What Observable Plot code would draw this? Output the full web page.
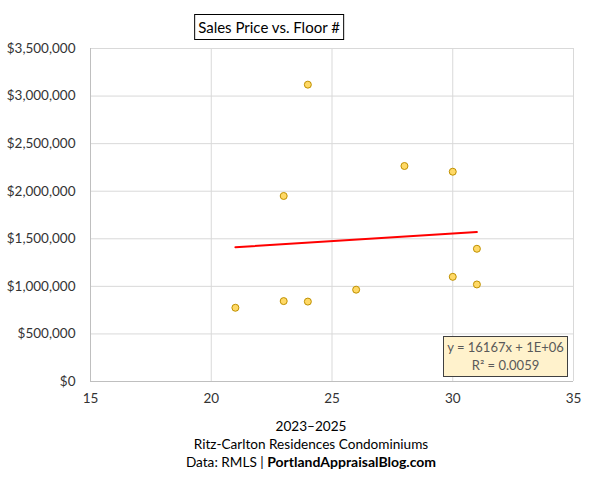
<!DOCTYPE html>
<html>
<head>
<meta charset="utf-8">
<script src="https://cdn.jsdelivr.net/npm/d3@7"></script>
<script src="https://cdn.jsdelivr.net/npm/@observablehq/plot@0.6"></script>
<style>
  html, body { margin: 0; padding: 0; background: #fff; }
  body { width: 595px; height: 480px; font-family: Lato, "Open Sans", sans-serif; position: relative; overflow: hidden; }
  #title-wrap { height: 40px; position: relative; }
  #title { position: absolute; left: 269px; top: 14px; transform: translateX(-50%); white-space: nowrap;
           padding: 0 3px; height: 24px; border: 1px solid #000;
           font-size: 15px; line-height: 24px; text-align: center; color: #000; }
  #chart { position: relative; height: 371px; }
  #eq { position: absolute; left: 443px; top: 296px; width: 123px; height: 38px; border: 1px solid #404040;
        background: #FFF2CC; color: #595959; font-size: 13px; line-height: 18px; text-align: center; padding-top: 1px; }
  #caption { position: absolute; top: 417px; left: 0; width: 622px; text-align: center; font-size: 13.6px; line-height: 18px; color: #000; }
  #caption b { font-size: 14px; }
</style>
</head>
<body>
<div id="title-wrap"><div id="title">Sales Price vs. Floor #</div></div>
<div id="chart"><div id="eq"></div></div>
<div id="caption">
  <div>2023–2025</div>
  <div>Ritz-Carlton Residences Condominiums</div>
  <div>Data: RMLS | <b>PortlandAppraisalBlog.com</b></div>
</div>
<script>
// Data
const floors = [21, 23, 24, 26, 23, 24, 28, 30, 31, 30, 31];
const prices = [775000, 845000, 840000, 965000, 1950000, 3120000, 2265000, 2205000, 1395000, 1100000, 1020000];
const xTicks = [15, 20, 25, 30, 35];
const yTicks = [0, 500000, 1000000, 1500000, 2000000, 2500000, 3000000, 3500000];
const equationLines = ["y = 16167x + 1E+06", "R² = 0.0059"];

const data = floors.map((f, i) => ({floor: f, price: prices[i]}));
const fmt = d3.format("$,.0f");

const plot = Plot.plot({
  width: 595,
  height: 371,
  marginTop: 8,
  marginLeft: 90,
  marginRight: 22,
  marginBottom: 30,
  style: {fontFamily: "Lato, 'Open Sans', sans-serif", fontSize: "13.5px", color: "#333", background: "#fff"},
  x: {domain: [15, 35], ticks: xTicks, tickSize: 0, tickPadding: 12, label: null},
  y: {domain: [0, 3500000], ticks: yTicks, tickSize: 0, tickPadding: 15, tickFormat: fmt, label: null},
  marks: [
    Plot.gridX(xTicks, {stroke: "#d9d9d9", strokeOpacity: 1}),
    Plot.gridY(yTicks, {stroke: "#d9d9d9", strokeOpacity: 1}),
    Plot.ruleX([15], {stroke: "#bfbfbf"}),
    Plot.ruleY([0], {stroke: "#bfbfbf"}),
    Plot.linearRegressionY(data, {x: "floor", y: "price", stroke: "#ff0000", strokeWidth: 2, ci: 0}),
    Plot.dot(data, {x: "floor", y: "price", r: 3.5, fill: "#FFD966", stroke: "#BF9000", strokeWidth: 1})
  ]
});
document.getElementById("chart").prepend(plot);
document.getElementById("eq").innerHTML = equationLines.map(s => `<div>${s}</div>`).join("");
</script>
</body>
</html>
